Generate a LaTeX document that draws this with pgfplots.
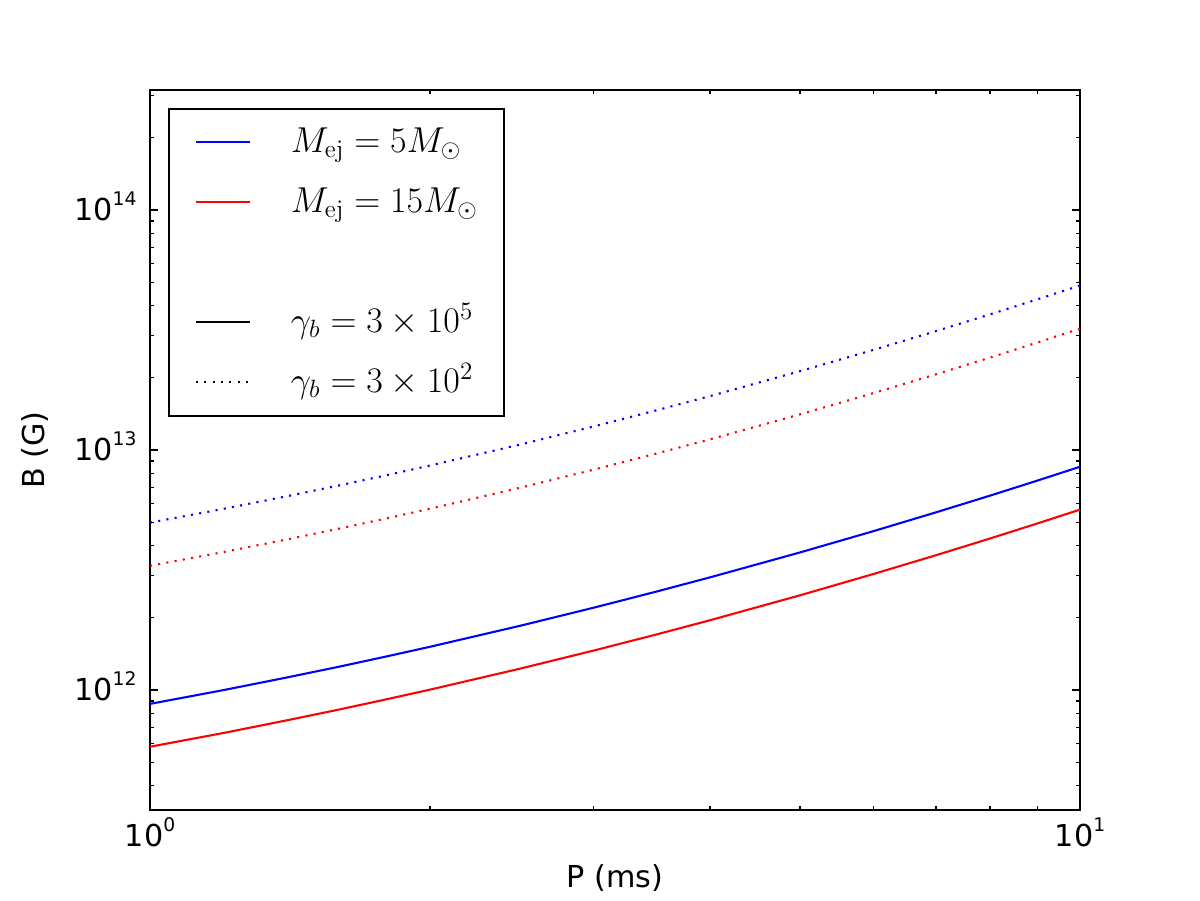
\documentclass[border=0pt]{standalone}
\usepackage{pgfplots}
\pgfplotsset{compat=1.18}
\usepackage[no-math]{fontspec}
\setmainfont{DejaVu Sans}
\newcommand{\xpow}[1]{10\raisebox{7.3pt}{\fontsize{9}{10}\selectfont #1}}
\newcommand{\ypow}[1]{10\raisebox{7.3pt}[0pt][0pt]{\fontsize{9}{10}\selectfont #1}}
\begin{document}
\begin{tikzpicture}
\useasboundingbox (-72pt,-43.2pt) rectangle (504pt,388.8pt);
\begin{axis}[
  at={(0,0)}, anchor=south west,
  scale only axis, width=446.4pt, height=345.6pt,
  xmode=log, ymode=log,
  xmin=1, xmax=10, ymin=3.1623e11, ymax=3.1623e14,
  axis line style={line width=1pt, black},
  tick align=inside,
  major tick length=4pt, minor tick length=2pt,
  every tick/.style={black, line width=0.6pt},
  xtick={1,10}, xticklabels={\xpow{0},\xpow{1}},
  minor xtick={2,3,4,5,6,7,8,9},
  ytick={1e12,1e13,1e14}, yticklabels={\ypow{12},\ypow{13},\ypow{14}},
  minor ytick={4e11,5e11,6e11,7e11,8e11,9e11,2e12,3e12,4e12,5e12,6e12,7e12,8e12,9e12,2e13,3e13,4e13,5e13,6e13,7e13,8e13,9e13,2e14,3e14},
  tick label style={font=\fontsize{14.5}{17}\selectfont},
  xticklabel style={inner sep=0pt, yshift=-3.4pt},
  yticklabel style={inner sep=0pt, xshift=-6.3pt},
  xlabel={P (ms)}, ylabel={B (G)},
  label style={font=\fontsize{14.5}{17}\selectfont},
  xlabel style={at={(axis description cs:0.5,-0.0944)}, anchor=center},
  ylabel style={at={(axis description cs:-0.1237,0.5)}, anchor=center},
  legend style={at={(axis description cs:0,1)}, anchor=north west,
    xshift=8.6pt, yshift=-8.6pt, draw=black, line width=1pt,
    inner xsep=12.5pt, inner ysep=6.8pt, row sep=10.3pt,
    font=\fontsize{17}{20}\selectfont,
    nodes={inner sep=0pt, text height=14pt, text depth=4.5pt}},
  legend cell align=left,
  legend image code/.code={\draw[#1,line width=1pt] (0pt,0pt) -- (26pt,0pt); \path (45pt,0pt);},
]
\addplot[blue, line width=1pt, forget plot] coordinates {
(1,8.75e11) (1.2,9.99e11) (1.4,1.125e12) (1.6,1.252e12) (1.8,1.382e12) (2,1.513e12)
(2.5,1.851e12) (3,2.202e12) (3.5,2.567e12) (4,2.945e12) (5,3.742e12) (6,4.592e12)
(7,5.495e12) (8,6.449e12) (9,7.455e12) (10,8.511e12)};
\addplot[red, line width=1pt, forget plot] coordinates {
(1,5.80e11) (1.2,6.62e11) (1.4,7.46e11) (1.6,8.30e11) (1.8,9.16e11) (2,1.003e12)
(2.5,1.227e12) (3,1.460e12) (3.5,1.701e12) (4,1.952e12) (5,2.480e12) (6,3.044e12)
(7,3.642e12) (8,4.275e12) (9,4.942e12) (10,5.642e12)};
\addplot[blue, line width=1pt, dash pattern=on 1pt off 3pt, forget plot] coordinates {
(1,4.98e12) (1.2,5.686e12) (1.4,6.401e12) (1.6,7.127e12) (1.8,7.864e12) (2,8.611e12)
(2.5,1.053e13) (3,1.253e13) (3.5,1.461e13) (4,1.676e13) (5,2.130e13) (6,2.613e13)
(7,3.127e13) (8,3.671e13) (9,4.243e13) (10,4.844e13)};
\addplot[red, line width=1pt, dash pattern=on 1pt off 3pt, forget plot] coordinates {
(1,3.29e12) (1.2,3.757e12) (1.4,4.229e12) (1.6,4.708e12) (1.8,5.195e12) (2,5.689e12)
(2.5,6.959e12) (3,8.279e12) (3.5,9.650e12) (4,1.1071e13) (5,1.4068e13) (6,1.7265e13)
(7,2.0660e13) (8,2.4249e13) (9,2.8031e13) (10,3.2002e13)};
\addlegendimage{blue}
\addlegendentry{$M_{\mathrm{ej}}=5M_\odot$}
\addlegendimage{red}
\addlegendentry{$M_{\mathrm{ej}}=15M_\odot$}
\addlegendimage{empty legend}
\addlegendentry{\phantom{X}}
\addlegendimage{black}
\addlegendentry{$\gamma_b=3\times10^5$}
\addlegendimage{black, dash pattern=on 1pt off 3pt}
\addlegendentry{$\gamma_b=3\times10^2$}
\end{axis}
\end{tikzpicture}
\end{document}
